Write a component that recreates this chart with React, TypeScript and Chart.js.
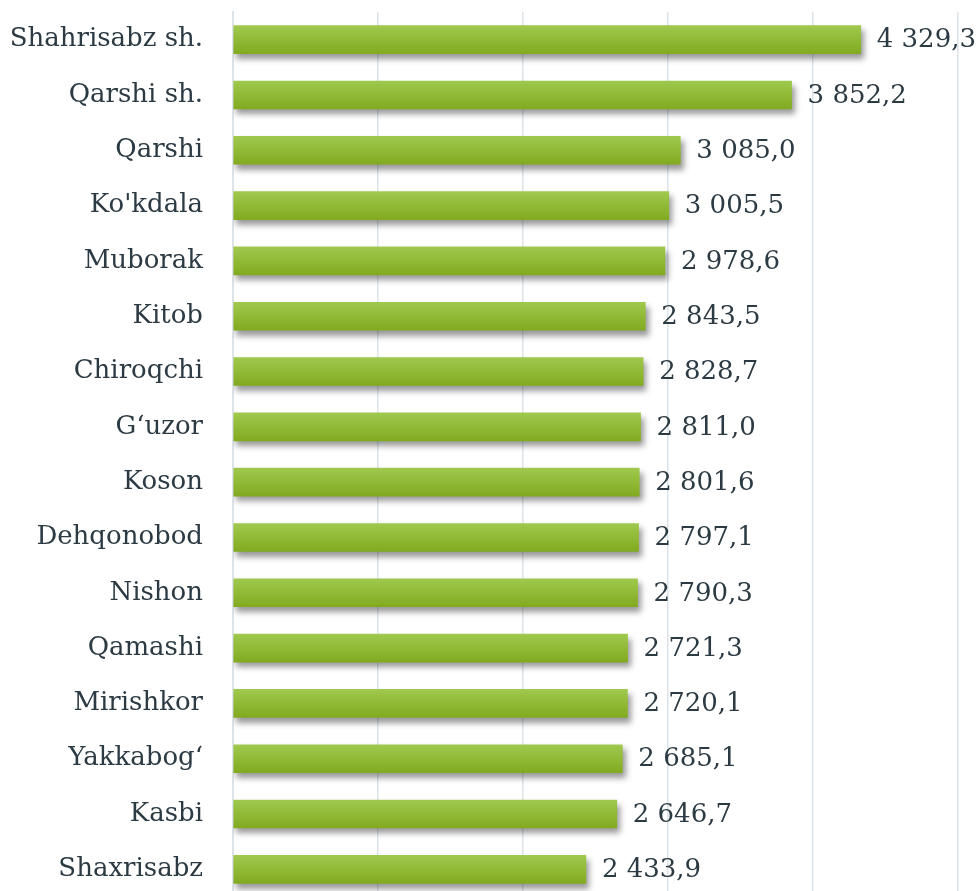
import React, { useEffect, useRef } from "react";
import { Chart, registerables } from "chart.js";

Chart.register(...registerables);

const categories = [
  "Shahrisabz sh.",
  "Qarshi sh.",
  "Qarshi",
  "Ko'kdala",
  "Muborak",
  "Kitob",
  "Chiroqchi",
  "G‘uzor",
  "Koson",
  "Dehqonobod",
  "Nishon",
  "Qamashi",
  "Mirishkor",
  "Yakkabog‘",
  "Kasbi",
  "Shaxrisabz",
];

const values = [
  4329.3, 3852.2, 3085.0, 3005.5, 2978.6, 2843.5, 2828.7, 2811.0, 2801.6, 2797.1,
  2790.3, 2721.3, 2720.1, 2685.1, 2646.7, 2433.9,
];

const axisMin = 0;
const axisMax = 5000;
const axisStep = 1000;

const FONT = "'DejaVu Serif', serif";
const FONT_SIZE = 26;
const TEXT_COLOR = "#2c3a43";
const GRID_COLOR = "#dde4e9";

function fmt(v: number): string {
  const [i, d] = v.toFixed(1).split(".");
  const int = i.replace(/\B(?=(\d{3})+(?!\d))/g, " ");
  return int + "," + d;
}

const shadowPlugin = {
  id: "barShadow",
  beforeDatasetsDraw(chart: any) {
    const ctx = chart.ctx;
    ctx.save();
    ctx.shadowColor = "rgba(0,0,0,0.4)";
    ctx.shadowBlur = 6;
    ctx.shadowOffsetX = 3;
    ctx.shadowOffsetY = 5;
  },
  afterDatasetsDraw(chart: any) {
    chart.ctx.restore();
  },
};

const valueLabelPlugin = {
  id: "valueLabels",
  afterDraw(chart: any) {
    const ctx = chart.ctx;
    const meta = chart.getDatasetMeta(0);
    ctx.save();
    ctx.font = `${FONT_SIZE}px ${FONT}`;
    ctx.fillStyle = TEXT_COLOR;
    ctx.textAlign = "left";
    ctx.textBaseline = "middle";
    meta.data.forEach((bar: any, i: number) => {
      ctx.fillText(fmt(values[i]), bar.x + 16, bar.y + 1);
    });
    ctx.restore();
  },
};

export default function App() {
  const ref = useRef<HTMLCanvasElement | null>(null);

  useEffect(() => {
    if (!ref.current) return;
    const chart = new Chart(ref.current, {
      type: "bar",
      data: {
        labels: categories,
        datasets: [
          {
            data: values,
            barThickness: 28,
            borderWidth: 0,
            backgroundColor: (c: any) => {
              const ch = c.chart;
              const ys = ch.scales && ch.scales.y;
              if (!ys || c.dataIndex === undefined) return "#90b935";
              const cy = ys.getPixelForValue(c.dataIndex);
              if (!Number.isFinite(cy)) return "#90b935";
              const g = ch.ctx.createLinearGradient(0, cy - 14, 0, cy + 14);
              g.addColorStop(0, "#9fc94e");
              g.addColorStop(1, "#82aa20");
              return g;
            },
          },
        ],
      },
      options: {
        indexAxis: "y",
        animation: false,
        responsive: true,
        maintainAspectRatio: false,
        layout: { padding: { top: 12, right: 22, left: 0, bottom: 0 } },
        plugins: {
          legend: { display: false },
          tooltip: { enabled: false },
        },
        scales: {
          x: {
            min: axisMin,
            max: axisMax,
            ticks: { display: false, stepSize: axisStep },
            grid: { color: GRID_COLOR, lineWidth: 1.5, drawTicks: false },
            border: { display: false },
            afterFit: (s: any) => {
              s.height = 0;
              s.paddingLeft = 0;
              s.paddingRight = 0;
            },
          },
          y: {
            grid: { display: false, drawTicks: false },
            border: { display: true, color: GRID_COLOR, width: 2 },
            ticks: {
              padding: 30,
              color: TEXT_COLOR,
              font: { family: FONT, size: FONT_SIZE },
            },
            afterFit: (s: any) => {
              s.width = 233;
              s.paddingTop = 0;
              s.paddingBottom = 0;
            },
          },
        },
      },
      plugins: [shadowPlugin, valueLabelPlugin],
    });
    return () => chart.destroy();
  }, []);

  return (
    <div style={{ position: "absolute", left: 0, top: 0, width: 980, height: 897 }}>
      <canvas ref={ref} />
    </div>
  );
}
